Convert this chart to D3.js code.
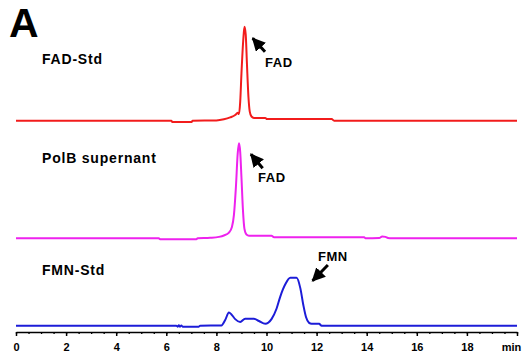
<!DOCTYPE html>
<html>
<head>
<meta charset="utf-8">
<script src="https://cdn.jsdelivr.net/npm/d3@7"></script>
<style>
  body { margin: 0; background: #fff; }
  text { font-family: "Liberation Sans", Arial, sans-serif; font-weight: bold; }
</style>
</head>
<body>
<div id="plot"></div>
<script>
// retention time (min) and signal (arbitrary units)
const fadStd = [[0,0],[6.2,0],[6.25,-1.5],[7.0,-1.5],[7.05,0],[8.0,0.3],[8.3,1.5],[8.55,3.5],[8.75,6],[8.85,8.5],[8.9,7],
  [8.95,20],[9.0,50],[9.07,85],[9.12,100],[9.17,92],[9.22,60],[9.28,25],[9.33,10],[9.4,4.5],[9.5,3],[9.95,3],
  [10.02,1.8],[12.6,1.8],[12.7,0],[20,0]];
const polB = [[0,0],[5.7,0],[5.75,-1],[7.2,-1],[7.25,0],[7.75,0.5],[8.1,1.5],[8.3,3],[8.5,6],[8.62,12],[8.7,25],
  [8.78,55],[8.85,90],[8.9,101],[8.95,92],[9.0,65],[9.06,30],[9.12,10],[9.2,4],[9.3,2.8],[10.2,2.8],[10.3,1.2],
  [13.9,1.2],[13.95,0],[14.5,0.3],[14.62,2],[14.75,1.5],[14.85,0.3],[15.0,0],[20,0]];
const fmnStd = [[0,0],[6.4,0],[6.45,-1],[6.5,0.5],[6.55,-1],[6.6,0.3],[6.65,-1],[7.3,-1],[7.35,0],[8.2,0.3],
  [8.35,6],[8.5,14],[8.6,12],[8.75,7],[8.95,4],[9.15,7.5],[9.5,7.5],[9.7,5],[9.95,2],[10.2,7],[10.4,18],
  [10.55,31],[10.75,44],[10.95,51],[11.2,51],[11.35,40],[11.47,22],[11.58,9],[11.7,3],[11.8,2],[12.1,2],[12.2,0],[20,0]];

const traceNames = ["FAD-Std", "PolB supernant", "FMN-Std"];
const traceColors = ["#f21c1c", "#ee22ee", "#1c1cd8"];
// arrow tips in data units (min, signal)
const arrowLabels = ["FAD", "FAD", "FMN"];
const arrowTips = [[9.41, 88.7], [9.34, 90.4], [11.8, 46.8]];
const xTicks = d3.range(0, 21, 2);

function main(){
  const width = 532, height = 360;
  const svg = d3.select("#plot").append("svg")
    .attr("width", width)
    .attr("height", height);

  const x = d3.scaleLinear().domain([0, 20]).range([16, 517]);
  const bases = [120.7, 238.3, 325.7];
  const ys = bases.map(b => d3.scaleLinear().domain([0, 100]).range([b, b - 94]));
  const traces = [fadStd, polB, fmnStd];

  traces.forEach((data, i) => {
    const line = d3.line().x(d => x(d[0])).y(d => ys[i](d[1])).curve(d3.curveMonotoneX);
    svg.append("path")
      .attr("d", line(data))
      .attr("fill", "none")
      .attr("stroke", traceColors[i])
      .attr("stroke-width", 2)
      .attr("stroke-linejoin", "round");
  });

  // trace names
  const nameY = [64, 163, 275];
  svg.selectAll(".name")
    .data(traceNames)
    .join("text")
    .attr("x", 42)
    .attr("y", (d, i) => nameY[i])
    .attr("font-size", 14)
    .attr("letter-spacing", 0.8)
    .text(d => d);

  svg.append("text")
    .attr("x", 9).attr("y", 37)
    .attr("font-size", 41)
    .text("A");

  // arrows
  svg.append("defs").append("marker")
    .attr("id", "head")
    .attr("viewBox", "0 0 10 10")
    .attr("refX", 9).attr("refY", 5)
    .attr("markerWidth", 4.5).attr("markerHeight", 4.5)
    .attr("markerUnits", "strokeWidth")
    .attr("orient", "auto")
    .append("path").attr("d", "M0,0L10,5L0,10z").attr("fill", "#000");

  const tails = [[13.3, 14.4], [12.7, 15], [16.3, -16.7]];
  const textOff = [[13.3, 29.7], [8, 28.7], [6.3, -20.7]];
  arrowTips.forEach((t, i) => {
    const px = x(t[0]), py = ys[i](t[1]);
    svg.append("line")
      .attr("x1", px + tails[i][0]).attr("y1", py + tails[i][1])
      .attr("x2", px + 1).attr("y2", py + (tails[i][1] > 0 ? 1 : -1))
      .attr("stroke", "#000")
      .attr("stroke-width", 3)
      .attr("marker-end", "url(#head)");
    svg.append("text")
      .attr("x", px + textOff[i][0]).attr("y", py + textOff[i][1])
      .attr("font-size", 13)
      .attr("letter-spacing", 0.6)
      .text(arrowLabels[i]);
  });

  // x axis
  const ax = svg.append("g").attr("transform", "translate(0,332)");
  ax.append("g")
    .call(d3.axisBottom(x).tickValues(d3.range(0, 20.01, 0.5)).tickSize(2).tickFormat(""))
    .call(g => g.select(".domain").remove())
    .selectAll("line").attr("stroke-width", 1.3);
  ax.append("g")
    .call(d3.axisBottom(x).tickValues(xTicks).tickSize(4).tickSizeOuter(0).tickPadding(7)
      .tickFormat(d => d === 20 ? "min" : d))
    .call(g => g.select(".domain").attr("stroke-width", 1.5))
    .call(g => g.selectAll("line").attr("stroke-width", 1.5))
    .call(g => g.selectAll("text")
      .attr("font-size", 11)
      .attr("font-family", "Liberation Sans, Arial, sans-serif")
      .attr("font-weight", "bold")
      .attr("fill", "#000")
      .attr("dx", d => d === 20 ? -6 : 0));
}

window.addEventListener("load", main);
</script>
</body>
</html>
